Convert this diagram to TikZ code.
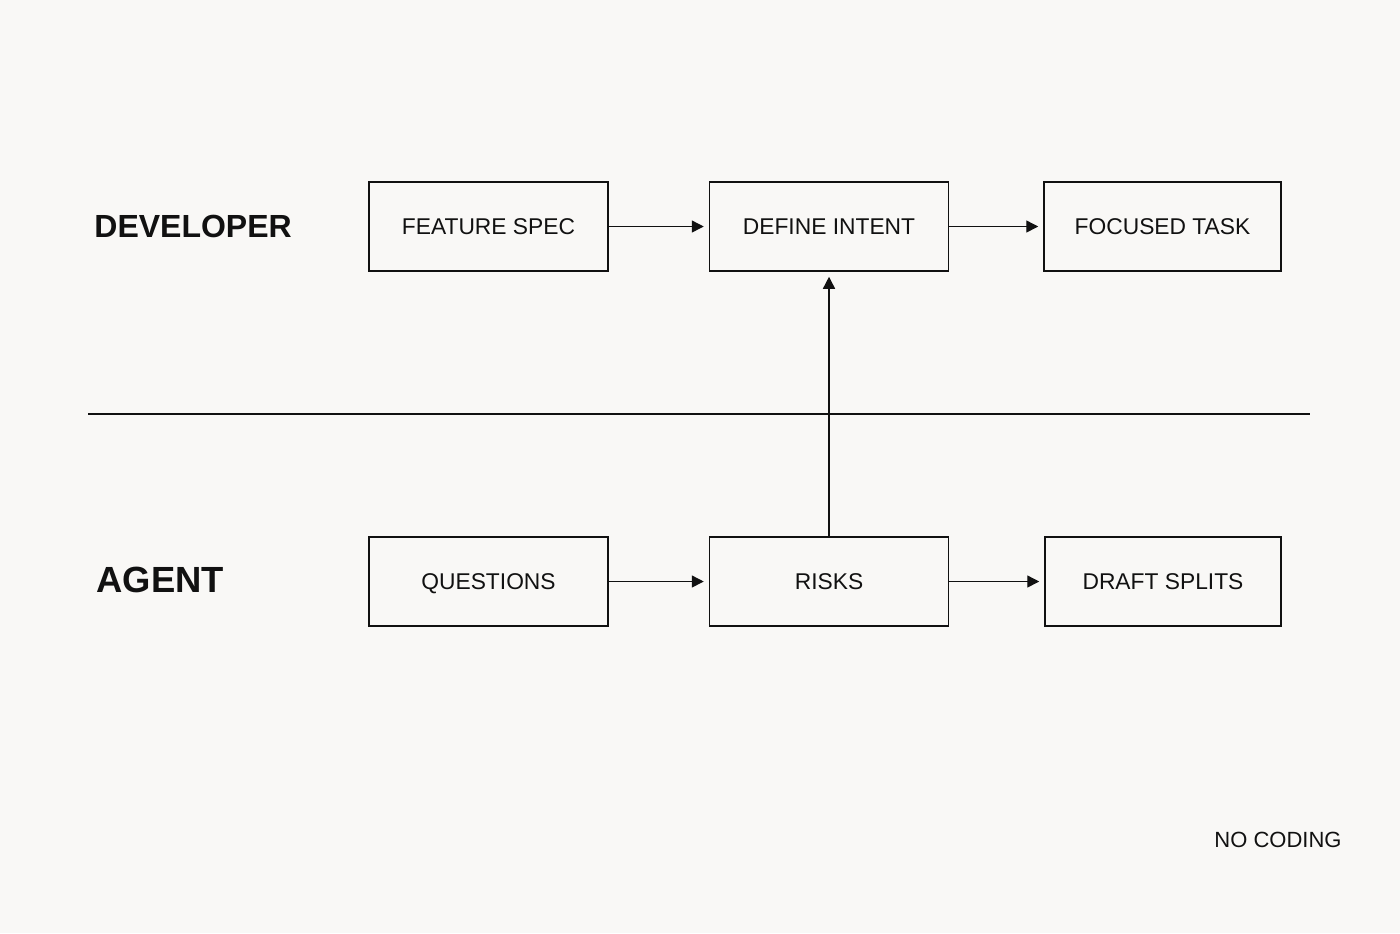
\documentclass[tikz,border=0pt]{standalone}
\usepackage{fontspec}
\setmainfont{Liberation Sans}
\usetikzlibrary{arrows.meta}
\definecolor{bg}{RGB}{249,248,246}
\definecolor{ink}{RGB}{17,17,17}
\begin{document}
\begin{tikzpicture}[x=0.5pt,y=-0.5pt,
  stepbox/.style={draw=ink,line width=0.75pt,minimum width=119.5pt,minimum height=44.5pt,inner sep=0pt,text height=8.2pt,text depth=0pt,font=\fontsize{11.4}{13}\selectfont,text=ink},
  lane/.style={anchor=west,inner sep=0pt,font=\bfseries,text=ink},
  flow/.style={draw=ink,line width=0.7pt,-{Triangle[length=6pt,width=6pt]},shorten >=2.5pt}]
\fill[bg] (0,0) rectangle (1400,933);
\useasboundingbox (0,0) rectangle (1400,933);
\node[lane,font=\bfseries\fontsize{16}{19}\selectfont] (dev) at (94,226.5) {DEVELOPER};
\node[lane,font=\bfseries\fontsize{18.2}{21}\selectfont] (agent) at (96,580) {AGENT};
\node[stepbox] (spec) at (488.5,226.5) {FEATURE SPEC};
\node[stepbox] (intent) at (829,226.5) {DEFINE INTENT};
\node[stepbox,minimum width=118.5pt] (task) at (1162.5,226.5) {FOCUSED TASK};
\node[stepbox] (quest) at (488.5,581.5) {QUESTIONS};
\node[stepbox] (risks) at (829,581.5) {RISKS};
\node[stepbox,minimum width=118pt] (draft) at (1163,581.5) {DRAFT SPLITS};
\coordinate (divL) at (88,414);
\coordinate (divR) at (1310,414);
\draw[ink,line width=0.7pt] (divL) -- (divR);
\draw[flow] (spec) -- (intent);
\draw[flow] (intent) -- (task);
\draw[flow] (quest) -- (risks);
\draw[flow] (risks) -- (draft);
\draw[flow] (risks) -- (intent);
\node[anchor=west,inner sep=0pt,font=\fontsize{11}{13}\selectfont,text=ink] (nocode) at (1214,840) {NO CODING};
\end{tikzpicture}
\end{document}
